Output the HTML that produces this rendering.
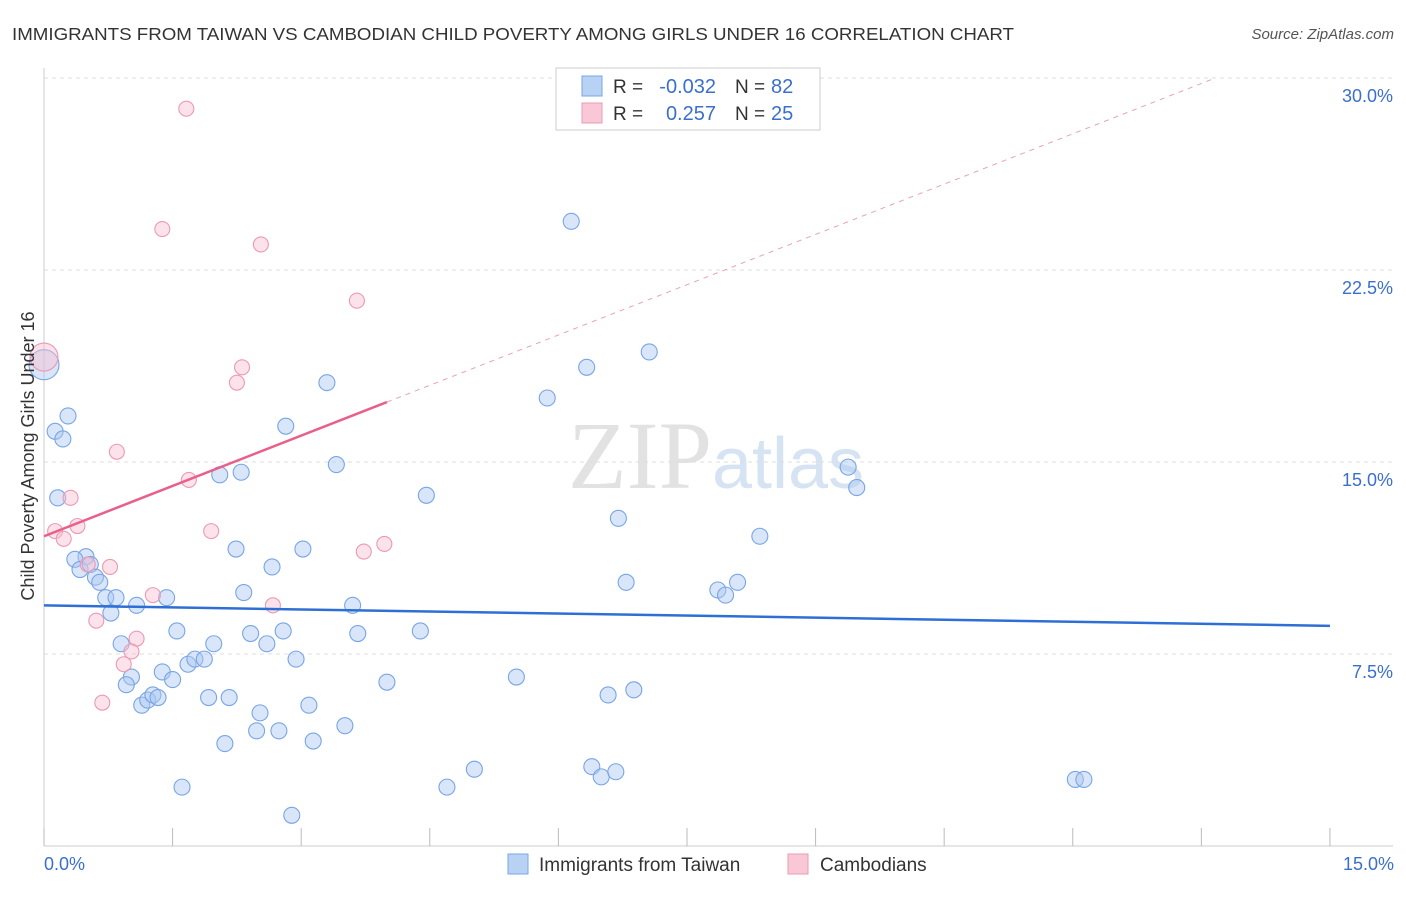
<!DOCTYPE html>
<html><head><meta charset="utf-8"><style>
body{margin:0;background:#fff;font-family:"Liberation Sans",sans-serif}
</style></head><body>
<svg id="c" width="1406" height="892" xmlns="http://www.w3.org/2000/svg">
<text x="12" y="40" font-size="17.2" fill="#333" textLength="1002" lengthAdjust="spacingAndGlyphs">IMMIGRANTS FROM TAIWAN VS CAMBODIAN CHILD POVERTY AMONG GIRLS UNDER 16 CORRELATION CHART</text>
<text x="1394" y="39" font-size="15" fill="#555" font-style="italic" text-anchor="end">Source: ZipAtlas.com</text>
<text x="716" y="488" font-size="96" fill="#e2e2e2" text-anchor="middle" font-family="Liberation Serif,serif">ZIP<tspan fill="#d6e3f3" font-family="Liberation Sans,sans-serif" font-size="72">atlas</tspan></text>
<g id="grid"></g><g id="pts"></g><g id="lines"></g>
<text transform="translate(34,456) rotate(-90)" font-size="18" fill="#333" text-anchor="middle">Child Poverty Among Girls Under 16</text>
<text x="44" y="870" font-size="18" fill="#3a6fd0">0.0%</text>
<text x="1394" y="870" font-size="18" fill="#3a6fd0" text-anchor="end">15.0%</text>
<g>
<rect x="556" y="68" width="264" height="62" fill="#fff" stroke="#ccc"/>
<rect x="582" y="76" width="20" height="20" fill="#b8d2f4" stroke="#7aa6e4"/>
<rect x="582" y="103" width="20" height="20" fill="#f9c8d6" stroke="#ec9ab2"/>
<text x="613" y="93" font-size="19" fill="#333">R =</text>
<text x="716" y="93" font-size="20" fill="#3a6fd0" text-anchor="end">-0.032</text>
<text x="735" y="93" font-size="19" fill="#333">N =</text>
<text x="771" y="93" font-size="20" fill="#3a6fd0">82</text>
<text x="613" y="120" font-size="19" fill="#333">R =</text>
<text x="716" y="120" font-size="20" fill="#3a6fd0" text-anchor="end">0.257</text>
<text x="735" y="120" font-size="19" fill="#333">N =</text>
<text x="771" y="120" font-size="20" fill="#3a6fd0">25</text>
</g>
<g>
<rect x="508" y="854" width="20" height="20" fill="#b8d2f4" stroke="#7aa6e4"/>
<text x="539" y="871" font-size="19" fill="#333">Immigrants from Taiwan</text>
<rect x="788" y="854" width="20" height="20" fill="#f9c8d6" stroke="#ec9ab2"/>
<text x="820" y="871" font-size="19" fill="#333">Cambodians</text>
</g>
</svg>
<script>
const yTicks=[7.5,15,22.5,30];
const yTickLabels=["7.5%","15.0%","22.5%","30.0%"];
const xTicks=[0,1.5,3,4.5,6,7.5,9,10.5,12,13.5,15];
const blueX=[0,0.28,0.13,0.22,0.16,0.49,0.36,0.42,0.54,0.6,0.65,0.72,0.84,0.78,1.08,1.43,0.9,1.02,0.96,1.14,1.21,1.27,1.33,1.38,1.5,1.55,1.68,1.76,1.87,1.98,1.92,2.16,2.11,1.61,2.41,2.6,2.79,2.94,2.52,2.48,2.74,3.09,3.14,3.51,2.89,2.24,2.33,2.66,3.02,2.05,2.3,2.82,3.3,3.41,3.6,3.66,4.0,4.39,4.46,4.7,5.02,5.51,5.87,6.15,6.33,6.39,6.5,6.67,6.58,6.88,6.7,6.79,7.06,7.86,7.95,8.09,8.35,9.38,9.48,12.03,12.13];
const blueY=[18.8,16.8,16.2,15.9,13.6,11.3,11.2,10.8,11.0,10.5,10.3,9.7,9.7,9.1,9.4,9.7,7.9,6.6,6.3,5.5,5.7,5.9,5.8,6.8,6.5,8.4,7.1,7.3,7.3,7.9,5.8,5.8,4.0,2.3,8.3,7.9,8.4,7.3,5.2,4.5,4.5,5.5,4.1,4.7,1.2,11.6,9.9,10.9,11.6,14.5,14.6,16.4,18.1,14.9,9.4,8.3,6.4,8.4,13.7,2.3,3.0,6.6,17.5,24.4,18.7,3.1,2.7,2.9,5.9,6.1,12.8,10.3,19.3,10.0,9.8,10.3,12.1,14.8,14.0,2.6,2.6];
const pinkX=[0,0.13,0.23,0.31,0.39,0.51,0.77,0.61,0.85,1.08,1.02,0.93,0.68,1.27,1.38,1.66,1.69,1.95,2.25,2.31,2.53,2.67,3.65,3.73,3.97];
const pinkY=[19.1,12.3,12.0,13.6,12.5,11.0,10.9,8.8,15.4,8.1,7.6,7.1,5.6,9.8,24.1,28.8,14.3,12.3,18.1,18.7,23.5,9.4,21.3,11.5,11.8];
const blueLine=[9.4,8.6];
const pinkLine=[12.1,1.31];
const NS="http://www.w3.org/2000/svg";
const sx=v=>44+v*85.73, sy=v=>846-v*25.6;
function mk(t,a,p){const e=document.createElementNS(NS,t);for(const k in a)e.setAttribute(k,a[k]);document.getElementById(p).appendChild(e);return e;}
mk('line',{x1:44,y1:68,x2:44,y2:846,stroke:'#ccc'},'grid');
mk('line',{x1:44,y1:846,x2:1393,y2:846,stroke:'#ccc'},'grid');
yTicks.forEach((v,i)=>{
 const l=mk('line',{x1:44,y1:sy(v),x2:1393,y2:sy(v),stroke:'#ddd','stroke-dasharray':'4,4'},'grid');
 
 
 const t=mk('text',{x:1393,y:sy(v)+24,'font-size':18,fill:'#3a6fd0','text-anchor':'end'},'grid');
 t.textContent=yTickLabels[i];
 
 
});
xTicks.forEach(v=>{
 const l=mk('line',{x1:sx(v),y1:828,x2:sx(v),y2:846,stroke:'#bbb'},'grid');
 
 
});
blueX.forEach((x,i)=>{
 const c=mk('circle',{cx:sx(x),cy:sy(blueY[i]),r:i==0?15:8,fill:'rgba(170,200,242,0.45)',stroke:'#78a5e4','stroke-width':1.1},'pts');
 
 
});
pinkX.forEach((x,i)=>{
 const c=mk('circle',{cx:sx(x),cy:sy(pinkY[i]),r:i==0?14:7.5,fill:'rgba(248,190,208,0.45)',stroke:'#ec99b3','stroke-width':1.1},'pts');
 
 
});
const bl=mk('line',{x1:sx(0),y1:sy(blueLine[0]),x2:sx(15),y2:sy(blueLine[1]),stroke:'#2e6fd6','stroke-width':2.5},'lines');


const xe=(30-pinkLine[0])/pinkLine[1];
const pd=mk('line',{x1:sx(4),y1:sy(pinkLine[0]+pinkLine[1]*4),x2:sx(xe),y2:sy(30),stroke:'#eaa0b8','stroke-width':1,'stroke-dasharray':'5,5'},'lines');


const pl=mk('line',{x1:sx(0),y1:sy(pinkLine[0]),x2:sx(4),y2:sy(pinkLine[0]+pinkLine[1]*4),stroke:'#e8608a','stroke-width':2.5},'lines');


</script>
</body></html>
